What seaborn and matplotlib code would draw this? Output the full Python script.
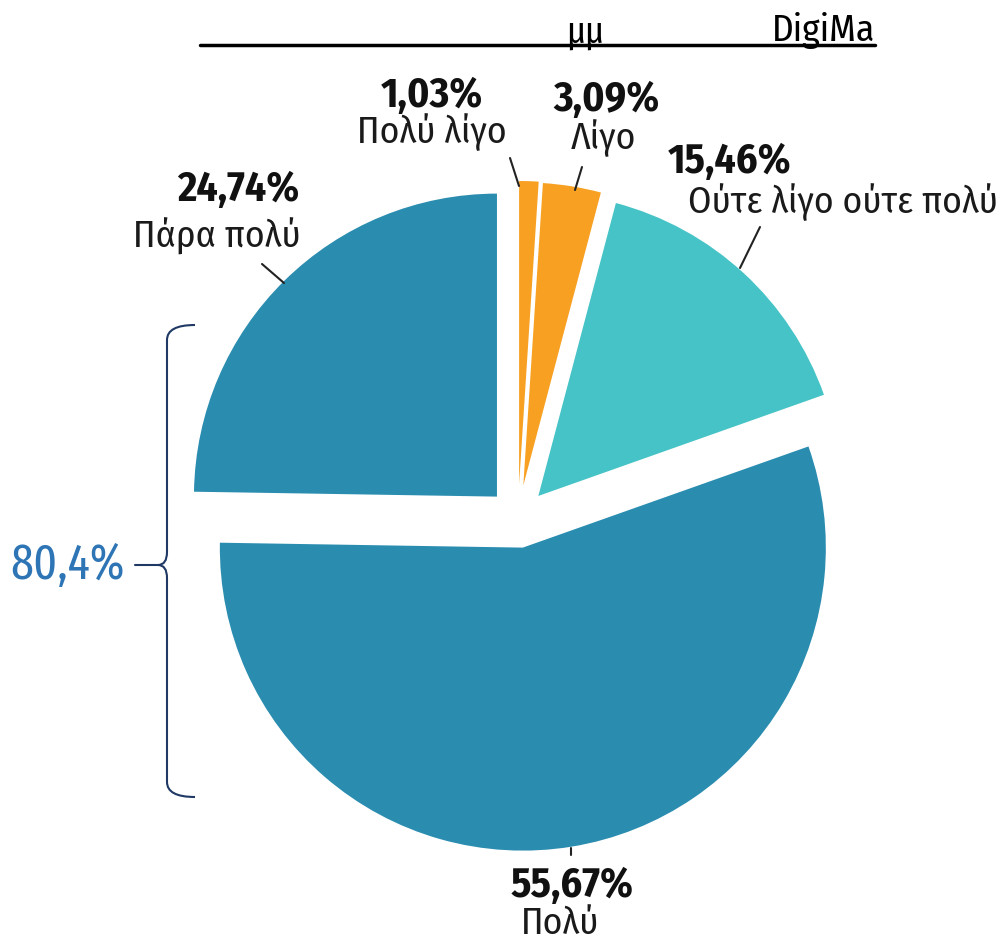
import matplotlib
matplotlib.use("Agg")
import matplotlib.pyplot as plt
import seaborn as sns
from matplotlib.path import Path
from matplotlib.patches import PathPatch

sns.set_theme(style="white")
plt.rcParams['font.family'] = ['Fira Sans Condensed', 'DejaVu Sans']

# Data (counter-clockwise from top)
categories = ["Πάρα πολύ", "Πολύ", "Ούτε λίγο ούτε πολύ", "Λίγο", "Πολύ λίγο"]
values = [24.74, 55.67, 15.46, 3.09, 1.03]
pct_labels = ["24,74%", "55,67%", "15,46%", "3,09%", "1,03%"]
colors = ["#2a8db0", "#2a8db0", "#45c3c6", "#f7a022", "#f7a022"]
group_label = "80,4%"
header_left = "μμ"
header_right = "DigiMa"

W, H = 1001, 943
fig = plt.figure(figsize=(W / 100, H / 100), dpi=100)
ax = fig.add_axes([0, 0, 1, 1])

def py(y):
    return H - y

cx, cy, r = 518, py(518), 303
ax.pie(values, colors=colors, startangle=90, counterclock=True,
       explode=[30, 30, 30, 33, 34], center=(cx, cy), radius=r,
       frame=True, wedgeprops=dict(linewidth=0))
ax.set_xlim(0, W)
ax.set_ylim(0, H)
ax.set_aspect('equal')
ax.axis('off')

label_pos = {
    "Πάρα πολύ": ((238, 190), (217, 236), [(262, 264), (284, 283)]),
    "Πολύ": ((572, 886), (560, 924), [(571, 848), (571, 855)]),
    "Ούτε λίγο ούτε πολύ": ((730, 162), (843, 202), [(760, 227), (740, 268)]),
    "Λίγο": ((606, 100), (603, 138), [(582, 167), (575, 190)]),
    "Πολύ λίγο": ((432, 96), (432, 132), [(510, 158), (519, 186)]),
}
for cat, pct in zip(categories, pct_labels):
    (px1, py1), (px2, py2), line = label_pos[cat]
    ax.text(px1, py(py1), pct, ha='center', va='center', fontsize=30,
            fontweight='bold', color='#111111')
    ax.text(px2, py(py2), cat, ha='center', va='center', fontsize=27,
            fontweight='normal', color='#1a1a1a')
    (x0, y0), (x1, y1) = line
    ax.plot([x0, x1], [py(y0), py(y1)], color='#222222', lw=1.5)

# header
ax.plot([200, 875], [py(45), py(45)], color='black', lw=2.5)
ax.text(585, py(43), header_left, ha='center', va='baseline', fontsize=26,
        color='black')
ax.text(875, py(41), header_right, ha='right', va='baseline', fontsize=27,
        color='black')

# bracket
verts = [(195, py(325)), (167, py(325)), (167, py(340)),
         (167, py(552)),
         (167, py(565)), (158, py(565)),
         (167, py(565)), (167, py(578)),
         (167, py(782)),
         (167, py(797)), (195, py(797))]
codes = [Path.MOVETO, Path.CURVE3, Path.CURVE3,
         Path.LINETO,
         Path.CURVE3, Path.CURVE3,
         Path.CURVE3, Path.CURVE3,
         Path.LINETO,
         Path.CURVE3, Path.CURVE3]
ax.add_patch(PathPatch(Path(verts, codes), fill=False, edgecolor='#1f3864', lw=1.5))
ax.plot([135, 158], [py(565), py(565)], color='#1f3864', lw=1.5)
ax.text(68, py(565), group_label, ha='center', va='center', fontsize=36,
        color='#2e75b6', family=['Fira Sans Extra Condensed', 'DejaVu Sans'])

fig.savefig("out.png", dpi=100)
